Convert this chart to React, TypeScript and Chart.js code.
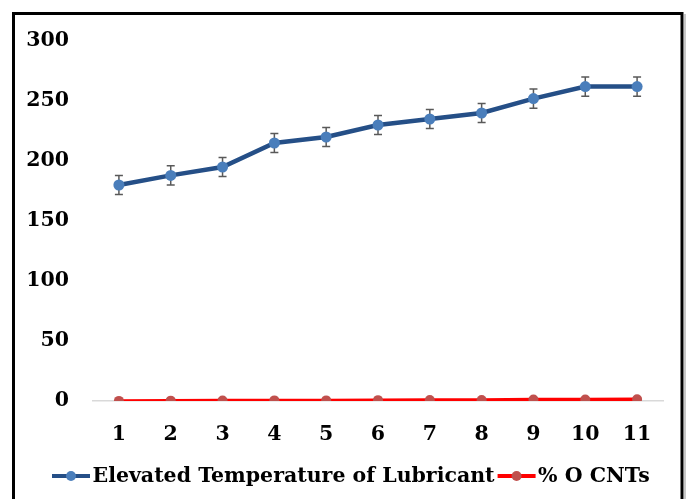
import React, { useEffect, useRef } from "react";
import { Chart, registerables } from "chart.js";

Chart.register(...registerables);

const categories = ["1", "2", "3", "4", "5", "6", "7", "8", "9", "10", "11"];
const temperature = [180, 188, 195, 215, 220, 230, 235, 240, 252, 262, 262];
const temperatureError = [8, 8, 8, 8, 8, 8, 8, 8, 8, 8, 8];
const cntPercent = [0.1, 0.3, 0.4, 0.5, 0.5, 0.7, 0.8, 0.8, 1.2, 1.3, 1.4];
const seriesNames = ["Elevated Temperature of Lubricant", "% O CNTs"];
const yMin = 0;
const yMax = 300;
const yStep = 50;

const BLUE_LINE = "#254f87";
const BLUE_POINT = "#4a7ebb";
const RED_LINE = "#ff0000";
const RED_POINT = "#c0504d";
const FONT_FAMILY = '"DejaVu Serif", serif';
const FONT = { family: FONT_FAMILY, weight: "bold" as const, size: 20.5 };

const errorBarsPlugin = {
  id: "errorBars",
  beforeDatasetsDraw(chart: any) {
    const { ctx, scales } = chart;
    const x = scales.x;
    const y = scales.y;
    ctx.save();
    ctx.strokeStyle = "#595959";
    ctx.lineWidth = 1.5;
    temperature.forEach((v, i) => {
      const px = x.getPixelForValue(i);
      const top = y.getPixelForValue(v + temperatureError[i]);
      const bot = y.getPixelForValue(v - temperatureError[i]);
      ctx.beginPath();
      ctx.moveTo(px, top);
      ctx.lineTo(px, bot);
      ctx.moveTo(px - 4, top);
      ctx.lineTo(px + 4, top);
      ctx.moveTo(px - 4, bot);
      ctx.lineTo(px + 4, bot);
      ctx.stroke();
    });
    ctx.restore();
  },
};

const legendPlugin = {
  id: "excelLegend",
  afterDraw(chart: any) {
    const { ctx } = chart;
    const cy = 476;
    let x = 52;
    ctx.save();
    ctx.font = `bold ${FONT.size}px ${FONT_FAMILY}`;
    ctx.textBaseline = "middle";
    ctx.textAlign = "left";
    chart.data.datasets.forEach((ds: any) => {
      ctx.strokeStyle = ds.borderColor;
      ctx.lineWidth = 4;
      ctx.beginPath();
      ctx.moveTo(x, cy);
      ctx.lineTo(x + 38, cy);
      ctx.stroke();
      ctx.fillStyle = ds.pointBackgroundColor;
      ctx.beginPath();
      ctx.arc(x + 19, cy, 5, 0, Math.PI * 2);
      ctx.fill();
      x += 38 + 2.5;
      ctx.fillStyle = "#000";
      ctx.fillText(ds.label, x, cy + 1);
      x += ctx.measureText(ds.label).width + 3;
    });
    ctx.restore();
  },
};

const framePlugin = {
  id: "frame",
  afterDraw(chart: any) {
    const { ctx } = chart;
    ctx.save();
    ctx.strokeStyle = "#000";
    ctx.lineWidth = 3;
    ctx.strokeRect(13.5, 13.5, 668.5, 600);
    ctx.strokeStyle = "#c8c8c8";
    ctx.lineWidth = 2;
    ctx.beginPath();
    ctx.moveTo(685, 14);
    ctx.lineTo(685, 499);
    ctx.stroke();
    ctx.restore();
  },
};

export default function App() {
  const ref = useRef<HTMLCanvasElement>(null);

  useEffect(() => {
    if (!ref.current) return;
    const chart = new Chart(ref.current, {
      type: "line",
      data: {
        labels: categories,
        datasets: [
          {
            label: seriesNames[0],
            data: temperature,
            borderColor: BLUE_LINE,
            backgroundColor: BLUE_POINT,
            pointBackgroundColor: BLUE_POINT,
            pointBorderColor: BLUE_POINT,
            borderWidth: 4.5,
            pointRadius: 5.5,
            pointBorderWidth: 0,
            tension: 0,
          },
          {
            label: seriesNames[1],
            data: cntPercent,
            borderColor: RED_LINE,
            backgroundColor: RED_POINT,
            pointBackgroundColor: RED_POINT,
            pointBorderColor: RED_POINT,
            borderWidth: 3.5,
            pointRadius: 5,
            pointBorderWidth: 0,
            tension: 0,
          },
        ],
      },
      options: {
        responsive: false,
        animation: false,
        color: "#000",
        layout: { padding: { left: 18, top: 41, right: 23, bottom: 43 } },
        plugins: {
          tooltip: { enabled: false },
          legend: { display: false },
        },
        scales: {
          x: {
            offset: true,
            grid: { display: false },
            border: { display: true, color: "#d9d9d9", width: 1.5 },
            ticks: { color: "#000", font: FONT, padding: 13 },
            afterFit: (s: any) => {
              s.height = 55;
            },
          },
          y: {
            min: yMin,
            max: yMax,
            grid: { display: false },
            border: { display: false },
            ticks: { stepSize: yStep, color: "#000", font: FONT, padding: 16 },
            afterFit: (s: any) => {
              s.width = 75;
            },
          },
        },
      },
      plugins: [errorBarsPlugin, legendPlugin, framePlugin],
    });
    return () => chart.destroy();
  }, []);

  return (
    <div style={{ position: "fixed", left: 0, top: 0, width: 686, height: 499, background: "#fff" }}>
      <canvas ref={ref} width={686} height={499} style={{ display: "block" }} />
    </div>
  );
}
